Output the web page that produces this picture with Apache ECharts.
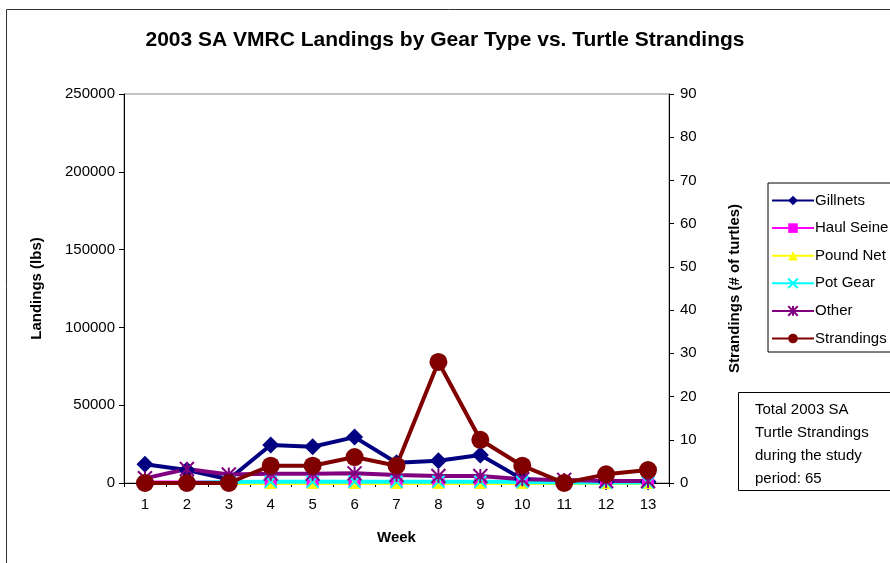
<!DOCTYPE html>
<html>
<head>
<meta charset="utf-8">
<script src="https://cdn.jsdelivr.net/npm/echarts@6/dist/echarts.min.js"></script>
<style>
  html, body { margin: 0; padding: 0; background: #fff; }
  #main { width: 890px; height: 563px; }
</style>
</head>
<body>
<div id="main"></div>
<script>
// weeks of the study period
var weeks = ['1', '2', '3', '4', '5', '6', '7', '8', '9', '10', '11', '12', '13'];
// landings (lbs) by gear type
var gillnets = [12000, 8400, 2400, 24400, 23300, 29500, 13000, 14300, 18000, 2500, 1000, 800, 800];
var haulSeine = [300, 300, 300, 300, 300, 300, 300, 300, 300, 300, 300, 300, 300];
var poundNet = [0, 0, 0, 0, 0, 0, 0, 0, 0, 0, 0, 0, 0];
var potGear = [0, 0, 600, 800, 800, 800, 800, 800, 800, 600, 300, 300, 300];
var other = [3000, 9000, 5500, 6000, 6000, 6200, 5100, 4500, 4500, 2400, 2000, 1300, 1300];
// turtle strandings (# of turtles)
var strandings = [0, 0, 0, 4, 4, 6, 4, 28, 10, 4, 0, 2, 3];
var totalNote = ['Total 2003 SA', 'Turtle Strandings', 'during the study', 'period: 65'];

var font = 'Liberation Sans, Arial, sans-serif';
var xMark = 'path://M0,0L10,10M10,0L0,10';
var starMark = 'path://M0,0L10,10M10,0L0,10M5,0L5,10';
var nameStyle = { fontFamily: font, fontSize: 15, fontWeight: 'bold', color: '#000' };
var labelStyle = { fontFamily: font, fontSize: 15, color: '#000' };

function gearSeries(name, data, color, symbol, size, extra) {
  var s = {
    name: name,
    type: 'line',
    yAxisIndex: 0,
    data: data,
    symbol: symbol,
    symbolSize: size,
    lineStyle: { color: color, width: 4 },
    itemStyle: { color: color },
    animation: false
  };
  return Object.assign(s, extra || {});
}

var chart = echarts.init(document.getElementById('main'));
var option = {
  backgroundColor: '#fff',
  textStyle: { fontFamily: font, color: '#000' },
  title: {
    text: '2003 SA VMRC Landings by Gear Type vs. Turtle Strandings',
    left: 'center',
    top: 25,
    textStyle: { fontFamily: font, fontSize: 21, fontWeight: 'bold', color: '#000' }
  },
  grid: {
    left: 124, right: 221, top: 94, bottom: 80,
    show: true, borderColor: '#888', borderWidth: 1
  },
  legend: {
    orient: 'vertical',
    left: 768, top: 183,
    itemWidth: 42, itemHeight: 12,
    itemGap: 12.6,
    padding: [10, 60, 6, 3],
    borderColor: '#000', borderWidth: 1,
    textStyle: { fontFamily: font, fontSize: 15, color: '#000', padding: [0, 0, 0, -4] },
    data: ['Gillnets', 'Haul Seine', 'Pound Net', 'Pot Gear', 'Other', 'Strandings']
  },
  xAxis: {
    type: 'category',
    data: weeks,
    name: 'Week',
    nameLocation: 'middle',
    nameGap: 47,
    nameTextStyle: nameStyle,
    axisLine: { lineStyle: { color: '#000', width: 1 } },
    axisTick: { show: true, length: 4, lineStyle: { color: '#000' } },
    axisLabel: Object.assign({ margin: 14 }, labelStyle)
  },
  yAxis: [
    {
      type: 'value',
      min: 0, max: 250000, interval: 50000,
      name: 'Landings (lbs)',
      nameLocation: 'middle',
      nameGap: 80,
      nameTextStyle: nameStyle,
      axisLine: { show: true, lineStyle: { color: '#000' } },
      axisTick: { show: true, length: 5, lineStyle: { color: '#000' } },
      axisLabel: Object.assign({ margin: 9, formatter: function (v) { return String(v); } }, labelStyle),
      splitLine: { show: false }
    },
    {
      type: 'value',
      min: 0, max: 90, interval: 10,
      name: 'Strandings (# of turtles)',
      nameLocation: 'middle',
      nameGap: 58,
      nameTextStyle: nameStyle,
      axisLine: { show: true, lineStyle: { color: '#000' } },
      axisTick: { show: true, length: 5, lineStyle: { color: '#000' } },
      axisLabel: Object.assign({ margin: 11 }, labelStyle),
      splitLine: { show: false }
    }
  ],
  series: [
    gearSeries('Gillnets', gillnets, '#000080', 'diamond', [17, 17]),
    gearSeries('Haul Seine', haulSeine, '#FF00FF', 'rect', 12),
    gearSeries('Pound Net', poundNet, '#FFFF00', 'triangle', 12),
    gearSeries('Pot Gear', potGear, '#00FFFF', xMark, 12, {
      itemStyle: { color: 'none', borderColor: '#00FFFF', borderWidth: 2 }
    }),
    gearSeries('Other', other, '#800080', starMark, 14, {
      itemStyle: { color: 'none', borderColor: '#800080', borderWidth: 2 }
    }),
    {
      name: 'Strandings',
      type: 'line',
      yAxisIndex: 1,
      data: strandings,
      symbol: 'circle',
      symbolSize: 18,
      lineStyle: { color: '#800000', width: 4 },
      itemStyle: { color: '#800000' },
      animation: false
    }
  ],
  graphic: [
    {
      type: 'rect',
      left: 4, top: 7,
      shape: { width: 1000, height: 1000 },
      style: { fill: 'none', stroke: '#333', lineWidth: 1 },
      silent: true
    },
    {
      type: 'rect',
      left: 738, top: 392,
      shape: { width: 200, height: 98 },
      style: { fill: '#fff', stroke: '#000', lineWidth: 1 }
    },
    {
      type: 'text',
      left: 755, top: 398,
      style: {
        text: totalNote.join('\n'),
        font: '15px ' + font,
        lineHeight: 23,
        fill: '#000'
      }
    }
  ]
};
chart.setOption(option);
</script>
</body>
</html>
